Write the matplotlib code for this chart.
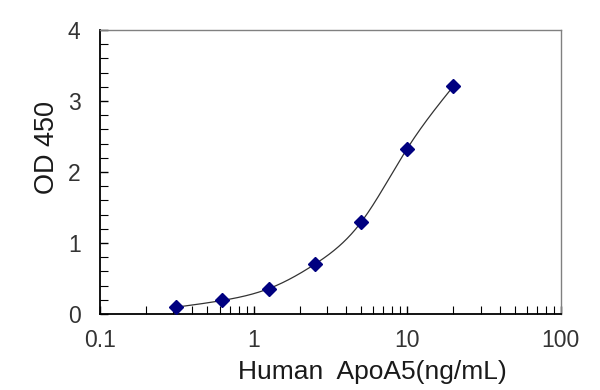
import numpy as np
import matplotlib
matplotlib.use("Agg")
import matplotlib.pyplot as plt
from matplotlib.ticker import LogLocator, FixedLocator, MultipleLocator, FuncFormatter

plt.rcParams['font.family'] = ['Liberation Sans', 'DejaVu Sans']

# standard curve readings
conc = [0.3125, 0.625, 1.25, 2.5, 5, 10, 20]
od450 = [0.095, 0.19, 0.355, 0.70, 1.29, 2.33, 3.21]
x_ticks = [0.1, 1, 10, 100]
x_tick_labels = ["0.1", "1", "10", "100"]
y_ticks = [0, 1, 2, 3, 4]


def natural_spline(xs, ys, n=400):
    # natural cubic spline through the points (log-x space)
    xs = np.asarray(xs, float)
    ys = np.asarray(ys, float)
    k = len(xs)
    h = np.diff(xs)
    A = np.zeros((k, k))
    b = np.zeros(k)
    A[0, 0] = A[-1, -1] = 1
    for i in range(1, k - 1):
        A[i, i - 1] = h[i - 1]
        A[i, i] = 2 * (h[i - 1] + h[i])
        A[i, i + 1] = h[i]
        b[i] = 6 * ((ys[i + 1] - ys[i]) / h[i] - (ys[i] - ys[i - 1]) / h[i - 1])
    m = np.linalg.solve(A, b)
    xx = np.linspace(xs[0], xs[-1], n)
    idx = np.clip(np.searchsorted(xs, xx) - 1, 0, k - 2)
    x0, x1 = xs[idx], xs[idx + 1]
    hh = x1 - x0
    a = (x1 - xx) / hh
    c = (xx - x0) / hh
    yy = (a * ys[idx] + c * ys[idx + 1]
          + ((a ** 3 - a) * m[idx] + (c ** 3 - c) * m[idx + 1]) * hh ** 2 / 6)
    return xx, yy


lx, ly = natural_spline(np.log10(conc), od450)

fig = plt.figure(figsize=(6, 3.9), dpi=100)
ax = fig.add_axes([0.1667, 0.195, 0.768, 0.728])

ax.plot(10 ** lx, ly, color="#333333", lw=0.9, zorder=2)
ax.plot(conc, od450, linestyle="none", marker="D", ms=7.5,
        color="#000080", mec="#000080", zorder=3)

ax.set_xscale("log")
ax.set_xlim(0.1, 100)
ax.set_ylim(0, 4)

ax.xaxis.set_major_locator(FixedLocator(x_ticks))
ax.xaxis.set_major_formatter(FuncFormatter(lambda v, p: x_tick_labels[x_ticks.index(v)] if v in x_ticks else ""))
ax.xaxis.set_minor_locator(LogLocator(base=10, subs=np.arange(2, 10)))
ax.xaxis.set_minor_formatter(FuncFormatter(lambda v, p: ""))
ax.yaxis.set_major_locator(FixedLocator(y_ticks))
ax.yaxis.set_minor_locator(MultipleLocator(0.2))

ax.tick_params(which="both", direction="in", colors="black", labelcolor="#333333",
               labelsize=16.5, top=False, right=False)
ax.tick_params(which="major", length=6, width=1)
ax.tick_params(which="minor", length=6, width=0.8)
ax.tick_params(axis="x", which="major", pad=11)
ax.tick_params(axis="y", which="major", pad=14)

for side in ("left", "bottom"):
    ax.spines[side].set_color("black")
    ax.spines[side].set_linewidth(1.3)
for side in ("top", "right"):
    ax.spines[side].set_color("#808080")
    ax.spines[side].set_linewidth(1.0)

ax.set_xlabel("Human  ApoA5(ng/mL)", fontsize=19, color="#1a1a1a")
ax.xaxis.set_label_coords(0.592, -0.205, transform=ax.transAxes)
ax.xaxis.label.set_va("center")
ax.set_ylabel("OD 450", fontsize=19.5, color="#1a1a1a")
ax.yaxis.set_label_coords(-0.114, 0.585, transform=ax.transAxes)
ax.yaxis.label.set_va("center")

fig.savefig("out.png", dpi=100)
